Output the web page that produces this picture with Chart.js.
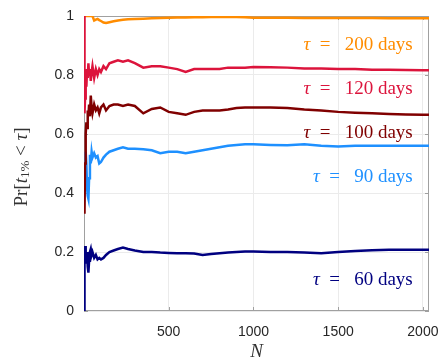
<!DOCTYPE html>
<html>
<head>
<meta charset="utf-8">
<script src="https://cdn.jsdelivr.net/npm/chart.js@4"></script>
<style>
  body { margin: 0; background: #fff; }
  #wrap { width: 441px; height: 360px; }
</style>
</head>
<body>
<div id="wrap"><canvas id="chart" width="441" height="360"></canvas></div>
<script>
// sample sizes N (shared x values)
const N = [1, 3, 6, 10, 14, 18, 22, 26, 30, 35, 40, 45, 50, 60, 70, 80, 90, 100, 115, 130,
    150, 175, 200, 230, 260, 300, 350, 400, 450, 500, 550, 600, 650, 700, 750, 800, 850, 900, 950, 1000,
    1100, 1200, 1300, 1400, 1500, 1600, 1700, 1800, 1900, 2000, 2036]

const tau200 = [1, 1, 1, 1, 1, 1, 1, 1, 1, 1, 1, 1, 1, 0.985, 0.988, 0.99, 0.986, 0.983, 0.978, 0.976,
    0.979, 0.982, 0.985, 0.987, 0.989, 0.99, 0.991, 0.992, 0.993, 0.994, 0.995, 0.995, 0.996, 0.996, 0.997, 0.997, 0.997, 0.997, 0.996, 0.994,
    0.994, 0.994, 0.993, 0.993, 0.993, 0.993, 0.993, 0.992, 0.992, 0.992, 0.992]

const tau120 = [1, 0.67, 0.72, 0.8, 0.76, 0.82, 0.79, 0.84, 0.8, 0.82, 0.78, 0.81, 0.83, 0.79, 0.82, 0.8, 0.82, 0.81, 0.83, 0.82,
    0.84, 0.845, 0.85, 0.845, 0.85, 0.84, 0.825, 0.83, 0.83, 0.825, 0.82, 0.81, 0.82, 0.82, 0.82, 0.82, 0.825, 0.825, 0.825, 0.827,
    0.826, 0.825, 0.822, 0.822, 0.82, 0.82, 0.818, 0.818, 0.817, 0.816, 0.816]

const tau100 = [0.5, 0.33, 0.5, 0.6, 0.64, 0.62, 0.68, 0.66, 0.7, 0.66, 0.73, 0.69, 0.67, 0.7, 0.68, 0.69, 0.67, 0.69, 0.7, 0.68,
    0.695, 0.7, 0.7, 0.695, 0.7, 0.695, 0.67, 0.685, 0.69, 0.675, 0.67, 0.665, 0.675, 0.68, 0.68, 0.68, 0.683, 0.688, 0.69, 0.69,
    0.69, 0.688, 0.683, 0.68, 0.675, 0.672, 0.67, 0.668, 0.666, 0.665, 0.665]

const tau90 = [0.5, 0.5, 0.45, 0.54, 0.5, 0.42, 0.39, 0.38, 0.45, 0.53, 0.5, 0.54, 0.52, 0.535, 0.52, 0.525, 0.5, 0.505, 0.52, 0.53,
    0.54, 0.545, 0.55, 0.555, 0.55, 0.55, 0.548, 0.545, 0.535, 0.54, 0.54, 0.535, 0.54, 0.545, 0.55, 0.555, 0.56, 0.563, 0.565, 0.565,
    0.563, 0.562, 0.565, 0.56, 0.558, 0.56, 0.56, 0.56, 0.56, 0.56, 0.56]

const tau60 = [0, 0.2, 0.22, 0.2, 0.16, 0.2, 0.15, 0.13, 0.17, 0.2, 0.21, 0.19, 0.2, 0.18, 0.19, 0.175, 0.18, 0.175, 0.18, 0.19,
    0.2, 0.205, 0.21, 0.215, 0.21, 0.205, 0.2, 0.2, 0.198, 0.197, 0.196, 0.196, 0.195, 0.19, 0.193, 0.196, 0.198, 0.2, 0.202, 0.202,
    0.2, 0.2, 0.198, 0.196, 0.2, 0.203, 0.206, 0.208, 0.208, 0.208, 0.208]

const tauDays = ['120', '100', '200', '90', '60']
const series = [tau120, tau100, tau200, tau90, tau60]
const colors = ['rgb(220,20,60)', 'rgb(128,0,0)', 'rgb(255,140,0)', 'rgb(30,144,255)', 'rgb(0,0,128)']
// where the tau labels sit, in data units
const labelN = 1940
const labelPr = [0.752, 0.603, 0.902, 0.454, 0.105]

const xTicks = [500, 1000, 1500, 2000]
const yTicks = [0, 0.2, 0.4, 0.6, 0.8, 1]

const serif = '"Liberation Serif", "DejaVu Serif", serif'
const sans = '"Liberation Sans", Arial, sans-serif'

const boxPlugin = {
    id: 'box',
    beforeDatasetsDraw(chart) {
        const { ctx, chartArea: a, scales } = chart
        ctx.save()
        ctx.strokeStyle = '#a0a0a0'
        ctx.lineWidth = 1
        ctx.strokeRect(a.left + 0.5, a.top + 0.5, a.right - a.left - 1, a.bottom - a.top - 1)
        ctx.beginPath()
        for (const t of xTicks) {
            const x = Math.round(scales.x.getPixelForValue(t)) + 0.5
            ctx.moveTo(x, a.bottom); ctx.lineTo(x, a.bottom - 4)
            ctx.moveTo(x, a.top); ctx.lineTo(x, a.top + 4)
        }
        for (const t of yTicks) {
            const y = Math.round(scales.y.getPixelForValue(t)) + 0.5
            ctx.moveTo(a.left, y); ctx.lineTo(a.left + 4, y)
            ctx.moveTo(a.right, y); ctx.lineTo(a.right - 4, y)
        }
        ctx.stroke()
        ctx.restore()
    },
    afterDatasetsDraw(chart) {
        const { ctx, scales } = chart
        ctx.save()
        ctx.textBaseline = 'middle'
        tauDays.forEach((d, i) => {
            const x = scales.x.getPixelForValue(labelN)
            const y = scales.y.getPixelForValue(labelPr[i])
            const rest = '  =   ' + d + ' days'
            ctx.fillStyle = colors[i]
            ctx.font = '19px ' + serif
            const wRest = ctx.measureText(rest).width
            ctx.textAlign = 'right'
            ctx.fillText(rest, x, y)
            ctx.font = 'italic 19px ' + serif
            ctx.fillText('τ', x - wRest, y)
        })

        // y axis title: Pr[t_1% < tau]
        ctx.fillStyle = '#333'
        ctx.textAlign = 'left'
        ctx.translate(22, 167)
        ctx.rotate(-Math.PI / 2)
        const parts = [
            ['Pr[', '19px ' + serif, 0],
            ['t', 'italic 19px ' + serif, 0],
            ['1%', '13px ' + serif, 4],
            [' < ', '19px ' + serif, 0],
            ['τ', 'italic 19px ' + serif, 0],
            [']', '19px ' + serif, 0]
        ]
        let total = 0
        for (const p of parts) { ctx.font = p[1]; total += ctx.measureText(p[0]).width }
        let px = -total / 2
        for (const p of parts) {
            ctx.font = p[1]
            ctx.fillText(p[0], px, p[2])
            px += ctx.measureText(p[0]).width
        }
        ctx.restore()

        // x axis title
        ctx.save()
        ctx.fillStyle = '#333'
        ctx.font = 'italic 19px ' + serif
        ctx.textAlign = 'center'
        ctx.textBaseline = 'middle'
        ctx.fillText('N', (chart.chartArea.left + chart.chartArea.right) / 2, 352)
        ctx.restore()
    }
}

const ctx = document.getElementById('chart').getContext('2d')

const myChart = new Chart(ctx, {
    type: 'line',
    data: {
        datasets: series.map((s, i) => ({
            label: 'τ = ' + tauDays[i] + ' days',
            data: N.map((n, j) => ({ x: n, y: s[j] })),
            borderColor: colors[i],
            borderWidth: 2.5,
            pointRadius: 0,
            tension: 0,
            fill: false
        }))
    },
    options: {
        responsive: false,
        animation: false,
        layout: { padding: { top: 16, right: 12, left: 0, bottom: 0 } },
        plugins: { legend: { display: false }, tooltip: { enabled: false } },
        scales: {
            x: {
                type: 'linear',
                min: 0,
                max: 2036,
                afterFit: s => { s.height = 49; s.paddingLeft = 0; s.paddingRight = 0 },
                afterBuildTicks: s => { s.ticks = xTicks.map(v => ({ value: v })) },
                grid: { color: '#ebebeb', drawTicks: false },
                border: { display: false },
                ticks: { padding: 13, color: '#262626', font: { family: sans, size: 14 }, callback: v => String(v) }
            },
            y: {
                min: 0,
                max: 1,
                afterFit: s => { s.width = 84; s.paddingTop = 0; s.paddingBottom = 0 },
                afterBuildTicks: s => { s.ticks = yTicks.map(v => ({ value: v })) },
                grid: { color: '#ebebeb', drawTicks: false },
                border: { display: false },
                ticks: { padding: 10, color: '#262626', font: { family: sans, size: 14 }, callback: v => String(v) }
            }
        }
    },
    plugins: [boxPlugin]
})
</script>
</body>
</html>
